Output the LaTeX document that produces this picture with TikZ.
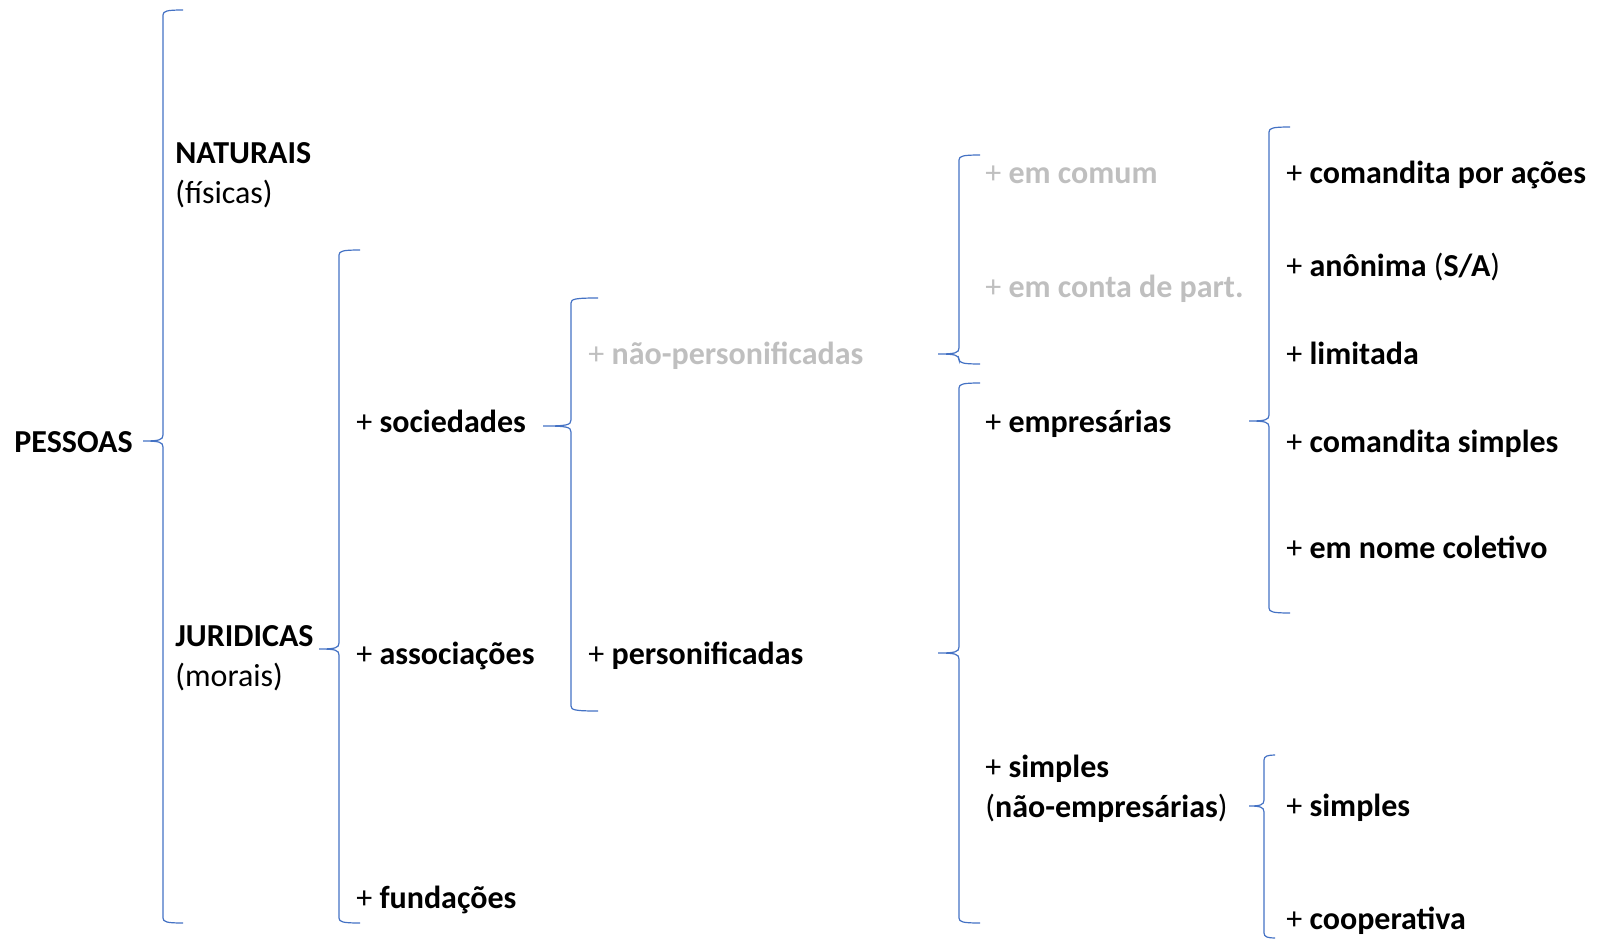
\documentclass[tikz,border=0pt]{standalone}
\usepackage{fontspec}
\setmainfont{Carlito}
\usetikzlibrary{positioning}
\definecolor{braceblue}{HTML}{4472C4}
\definecolor{fadedtext}{HTML}{BFBFBF}
\tikzset{
lbl/.style={anchor=mid west, inner sep=0pt, align=left, font=\fontsize{16}{20}\selectfont},
dim/.style={lbl, text=fadedtext},
brc/.style={draw=braceblue, line width=0.6pt},
}
\newcommand{\itm}[1]{+ \textbf{#1}}
% left curly brace: x of stem, top, y of tip, bottom, x of tip, x of arms
\newcommand{\curly}[6]{%
  \draw[brc] (#6,#2) .. controls (#1+4,#2) and (#1,#2+1) .. (#1,#2+5)
    -- (#1,#3-6) .. controls (#1,#3-1) and (#1-4,#3) .. (#5,#3)
    (#5,#3) .. controls (#1-4,#3) and (#1,#3+1) .. (#1,#3+6)
    -- (#1,#4-5) .. controls (#1,#4-1) and (#1+4,#4) .. (#6,#4);}

\begin{document}
\begin{tikzpicture}[x=0.5pt, y=-0.5pt]
\useasboundingbox (0,0) rectangle (1598,941);
    \node[lbl] (pessoas) at (14,448) {\textbf{PESSOAS}};
    \node[lbl] (naturais) at (175,199) {\textbf{NATURAIS}\\(f{}ísicas)};
    \node[lbl] (juridicas) at (175,682) {\textbf{JURIDICAS}\\(morais)};
    \node[lbl] (sociedades) at (356,428) {\itm{sociedades}};
    \node[lbl] (associacoes) at (356,660) {\itm{associações}};
    \node[lbl] (fundacoes) at (356,904) {\itm{fundações}};
    \node[dim] (naopers) at (588,360) {\itm{não-personificadas}};
    \node[lbl] (pers) at (588,660) {\itm{personificadas}};
    \node[dim] (comum) at (985,179) {\itm{em comum}};
    \node[dim] (contapart) at (985,293) {\itm{em conta de part.}};
    \node[lbl] (empresarias) at (985,428) {\itm{empresárias}};
    \node[lbl] (naoempr) at (985,813) {\itm{simples}\\(\textbf{não-empresárias})};
    \node[lbl] (cpa) at (1286,179) {\itm{comandita por ações}};
    \node[lbl] (anonima) at (1286,272) {\itm{anônima} (\textbf{S/A})};
    \node[lbl] (limitada) at (1286,360) {\itm{limitada}};
    \node[lbl] (cs) at (1286,448) {\itm{comandita simples}};
    \node[lbl] (nomecol) at (1286,554) {\itm{em nome coletivo}};
    \node[lbl] (simples) at (1286,812) {\itm{simples}};
    \node[lbl] (coop) at (1286,925) {\itm{cooperativa}};
    % braces
    \curly{163}{10}{441}{923}{143}{183}
    \curly{339}{250}{649}{923}{319}{360}
    \curly{571}{298}{426}{711}{543}{598}
    \curly{959}{155}{354}{364}{938}{980}
    \curly{959}{383}{653}{923}{938}{980}
    \curly{1269}{127}{421}{613}{1249}{1290}
    \curly{1264}{755}{806}{938}{1249}{1275}
\end{tikzpicture}
\end{document}
